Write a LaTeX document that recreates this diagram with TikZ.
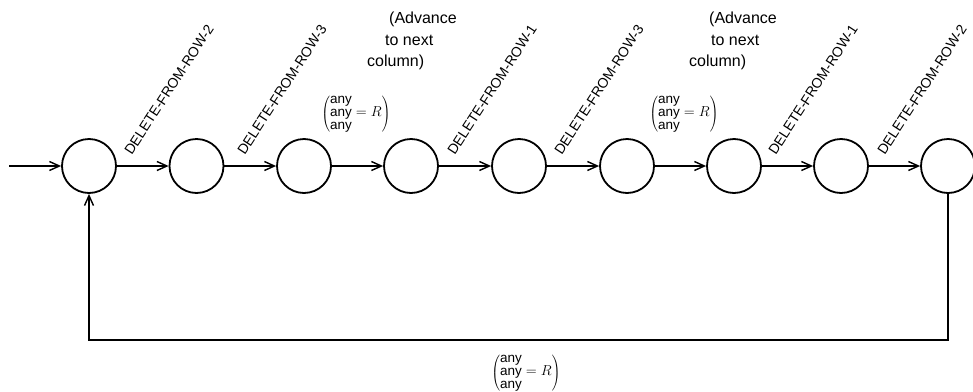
\documentclass[tikz,border=0pt]{standalone}
\usepackage{fontspec}
\setmainfont{Liberation Sans}
\usetikzlibrary{arrows.meta}
\newcommand\condmat{$\left(\begin{array}{@{}l@{}}\mbox{any}\\ \mbox{any} = R\\ \mbox{any}\end{array}\right)$}
\begin{document}
\begin{tikzpicture}[x=1pt,y=-1pt,
  state/.style={circle,draw,line width=1.8pt,minimum size=54pt,inner sep=0pt},
  flow/.style={line width=1.7pt,-{Straight Barb[length=10pt,width=9pt,line width=1.4pt]}},
  edgelabel/.style={rotate=57,anchor=south west,inner sep=0pt,font=\fontsize{14}{16}\selectfont},
  cond/.style={inner sep=0pt,font=\fontsize{13.5}{13}\selectfont},
  note/.style={inner sep=0pt,align=left,anchor=north west,font=\fontsize{16}{21.5}\selectfont}]
\useasboundingbox (0,0) rectangle (973,391);
\node[state] (s1) at (89,166) {};
\node[state] (s2) at (196.5,166) {};
\node[state] (s3) at (304,166) {};
\node[state] (s4) at (411,166) {};
\node[state] (s5) at (519,166) {};
\node[state] (s6) at (627,166) {};
\node[state] (s7) at (734,166) {};
\node[state] (s8) at (841,166) {};
\node[state] (s9) at (948,166) {};
\coordinate (in) at (9,166);
\coordinate (fbR) at (948,340);
\coordinate (fbL) at (89,340);
\draw[flow] (in) -- (s1);
\draw[flow] (s1) -- (s2);
\draw[flow] (s2) -- (s3);
\draw[flow] (s3) -- (s4);
\draw[flow] (s4) -- (s5);
\draw[flow] (s5) -- (s6);
\draw[flow] (s6) -- (s7);
\draw[flow] (s7) -- (s8);
\draw[flow] (s8) -- (s9);
\draw[flow] (s9) -- (fbR) -- (fbL) -- (s1);
\node[edgelabel] (l12) at (132,156) {DELETE-FROM-ROW-2};
\node[edgelabel] (l23) at (245,156) {DELETE-FROM-ROW-3};
\node[edgelabel] (l45) at (455,156) {DELETE-FROM-ROW-1};
\node[edgelabel] (l56) at (562,156) {DELETE-FROM-ROW-3};
\node[edgelabel] (l78) at (776,156) {DELETE-FROM-ROW-1};
\node[edgelabel] (l89) at (885,156) {DELETE-FROM-ROW-2};
\node[cond] (c34) at (356,114) {\condmat};
\node[cond] (c67) at (684,114) {\condmat};
\node[cond] (cfb) at (526,373) {\condmat};
\node[note] (n1) at (367,12) {\hspace*{22pt}(Advance\\\hspace*{18pt}to next\\column)};
\node[note] (n2) at (689,12) {\hspace*{20pt}(Advance\\\hspace*{22pt}to next\\column)};
\end{tikzpicture}
\end{document}
